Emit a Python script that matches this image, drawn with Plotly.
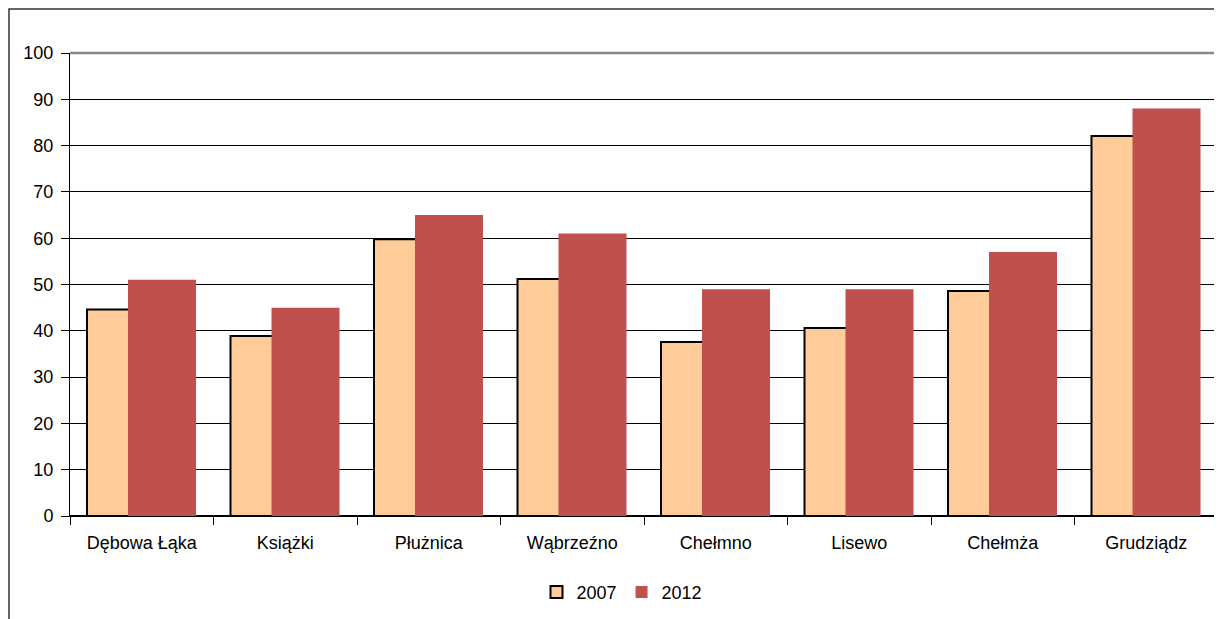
import plotly.graph_objects as go

categories = ["Dębowa Łąka", "Książki", "Płużnica", "Wąbrzeźno", "Chełmno", "Lisewo", "Chełmża", "Grudziądz"]
values_2007 = [44.6, 38.9, 59.8, 51.2, 37.6, 40.6, 48.6, 82.1]
values_2012 = [51, 45, 65, 61, 49, 49, 57, 88]
y_ticks = [0, 10, 20, 30, 40, 50, 60, 70, 80, 90, 100]

# page body adds an 8px offset
W, H = 1214, 611
ml, mr, mt, mb = 62, 4, 45, 103
pw, ph = W - ml - mr, H - mt - mb

fig = go.Figure()
fig.add_trace(go.Bar(
    name="2007", x=categories, y=values_2007,
    offset=-0.3815, width=0.474,
    marker=dict(color="#FFCC99", line=dict(color="black", width=2)),
))
fig.add_trace(go.Bar(
    name="2012", x=categories, y=values_2012,
    offset=-0.0958, width=0.474,
    marker=dict(color="#C0504D", line=dict(width=0)),
))

font = dict(family="Liberation Sans, Arial, sans-serif", size=18, color="black")

# outer chart border
fig.add_shape(type="rect", xref="paper", yref="paper",
              x0=(1 - ml) / pw, x1=(W + 20 - ml) / pw,
              y0=-(H + 20 - mt - ph) / ph, y1=1 + (mt - 1) / ph,
              line=dict(color="#333333", width=1.5), fillcolor="rgba(0,0,0,0)", layer="below")
# right plot-area edge and top line
fig.add_shape(type="line", xref="paper", yref="paper", x0=1.0, x1=1.0, y0=0, y1=1,
              line=dict(color="#888888", width=2))
fig.add_shape(type="line", xref="paper", yref="paper", x0=0, x1=1.0, y0=1, y1=1,
              line=dict(color="#888888", width=2.5))

fig.update_layout(
    width=W, height=H,
    margin=dict(l=ml, r=mr, t=mt, b=mb, autoexpand=False),
    barmode="overlay",
    paper_bgcolor="white", plot_bgcolor="white",
    font=font,
    showlegend=True,
    legend=dict(orientation="h", x=0.5 - 22 / pw, xanchor="center", y=-0.165, yanchor="middle",
                font=font, itemwidth=30, tracegroupgap=0),
    xaxis=dict(type="category", range=[-0.5, 7.5], showgrid=False,
               ticks="outside", ticklen=8, tickcolor="black", tickson="boundaries",
               showline=True, linecolor="black", linewidth=1, tickfont=font, automargin=False,
               ticklabelstandoff=10),
    yaxis=dict(range=[0, 100], tickvals=y_ticks, showgrid=True, gridcolor="black", gridwidth=1,
               ticks="outside", ticklen=8, tickcolor="black",
               showline=True, linecolor="black", linewidth=1,
               zeroline=True, zerolinecolor="black", tickfont=font, ticklabelstandoff=4,
               automargin=False),
)

fig.write_html("out.html")
